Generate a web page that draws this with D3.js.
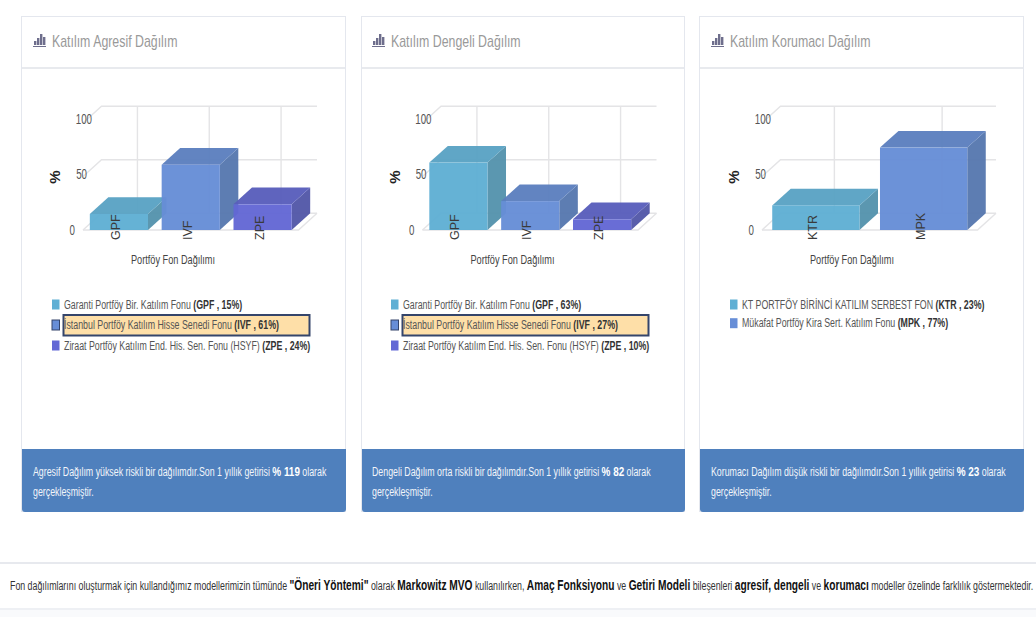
<!DOCTYPE html>
<html>
<head>
<meta charset="utf-8">
<script src="https://cdn.jsdelivr.net/npm/d3@7"></script>
<style>
html, body { margin: 0; padding: 0; background: #fff; overflow: hidden; }
svg { display: block; }
text { font-family: "Liberation Sans", Arial, sans-serif; }
</style>
</head>
<body>
<div id="chart-area"></div>
<script>
const panelTitles = ["Katılım Agresif Dağılım", "Katılım Dengeli Dağılım", "Katılım Korumacı Dağılım"];
const panelCategories = [["GPF", "IVF", "ZPE"], ["GPF", "IVF", "ZPE"], ["KTR", "MPK"]];
const panelValues = [[15, 61, 24], [63, 27, 10], [23, 77]];
const panelFundNames = [
    ["Garanti Portföy Bir. Katılım Fonu", "İstanbul Portföy Katılım Hisse Senedi Fonu", "Ziraat Portföy Katılım End. His. Sen. Fonu (HSYF)"],
    ["Garanti Portföy Bir. Katılım Fonu", "İstanbul Portföy Katılım Hisse Senedi Fonu", "Ziraat Portföy Katılım End. His. Sen. Fonu (HSYF)"],
    ["KT PORTFÖY BİRİNCİ KATILIM SERBEST FON", "Mükafat Portföy Kira Sert. Katılım Fonu"]
];
const highlighted = ["IVF", "IVF", null];
const footerNames = ["Agresif Dağılım yüksek", "Dengeli Dağılım orta", "Korumacı Dağılım düşük"];
const footerReturns = [119, 82, 23];
const yTicks = [0, 50, 100];
const xTitle = "Portföy Fon Dağılımı";
const bottomRuns = [
    ["Fon dağılımlarını oluşturmak için kullandığımız modellerimizin tümünde ", false],
    ["\"Öneri Yöntemi\"", true],
    [" olarak ", false],
    ["Markowitz MVO", true],
    [" kullanılırken, ", false],
    ["Amaç Fonksiyonu", true],
    [" ve ", false],
    ["Getiri Modeli", true],
    [" bileşenleri ", false],
    ["agresif, dengeli", true],
    [" ve ", false],
    ["korumacı", true],
    [" modeller özelinde farklılık göstermektedir.", false]
];

const faceColors = [
    {front: "#5fafd4", top: "#5aa3c4", side: "#5593ad"},
    {front: "#678ed7", top: "#5c80bf", side: "#5778af"},
    {front: "#6368d5", top: "#595ebc", side: "#5358a8"}
];

const panelLefts = [22, 362, 700];
const panelWidths = [324, 323, 324];
const contentLefts = [22, 361, 700];
const chartLefts = [22, 361.5, 701];
const squeeze = 0.735;
const depth = {x: 18.5, y: 16.7};
const floorY = 230;
const wallTop = 123;
const plotWidth = 215.5;

const svg = d3.select("#chart-area")
    .append("svg")
    .attr("width", 1036)
    .attr("height", 617);

// every text in the picture is narrower than the font, so squeeze it sideways
const addText = (parent, x, y, size, fill, runs, boldSize, boldFill) => {
    const t = parent.append("text")
        .attr("transform", `translate(${x}, ${y}) scale(${squeeze}, 1)`)
        .attr("font-size", size)
        .attr("fill", fill)
        .attr("xml:space", "preserve")
        .style("white-space", "pre");
    runs.forEach(([str, bold]) => {
        t.append("tspan")
            .attr("font-weight", bold ? "bold" : "normal")
            .attr("font-size", bold ? (boldSize || size) : size)
            .attr("fill", bold ? (boldFill || "#222") : fill)
            .text(str);
    });
    return t;
};

const drawChart = (g, left, categories, values) => {
    const x0 = left + 61;

    const x = d3.scaleBand()
        .domain(categories)
        .range([x0, x0 + plotWidth])
        .paddingInner(0.19)
        .paddingOuter(0.095);

    const y = d3.scaleLinear().domain([0, 100]).range([floorY, wallTop]);
    const labelY = d3.scaleLinear().domain([0, 100]).range([floorY - 0.5, 118.5]);
    // the tick labels follow the slanted side wall, lower ones sit further left
    const labelX = d3.scaleLinear().domain(yTicks).range([-17, -5, 0]);

    const grid = g.append("g")
        .attr("fill", "none")
        .attr("stroke", "#e4e4e6")
        .attr("stroke-width", 1.4);

    yTicks.forEach(tick => {
        const fy = y(tick);
        grid.append("path")
            .attr("d", `M${x0},${fy} L${x0 + depth.x},${fy - depth.y} H${x0 + plotWidth + depth.x}`);
    });
    grid.append("path")
        .attr("d", `M${x0},${floorY} H${x0 + plotWidth} L${x0 + plotWidth + depth.x},${floorY - depth.y}`);
    categories.forEach(c => {
        const gx = x(c) + x.bandwidth() / 2 + depth.x;
        grid.append("line")
            .attr("x1", gx).attr("x2", gx)
            .attr("y1", y(100) - depth.y).attr("y2", floorY - depth.y);
    });

    const bars = g.selectAll(".bar")
        .data(categories.map((c, i) => ({name: c, value: values[i], color: faceColors[i]})))
        .enter()
        .append("g")
        .attr("class", "bar")
        .attr("opacity", 0.96);

    const xl = d => x(d.name);
    const xr = d => x(d.name) + x.bandwidth();

    bars.append("path")
        .attr("fill", d => d.color.side)
        .attr("d", d => `M${xr(d)},${y(d.value)} l${depth.x},${-depth.y} V${floorY - depth.y} L${xr(d)},${floorY} Z`);
    bars.append("path")
        .attr("fill", d => d.color.top)
        .attr("d", d => `M${xl(d)},${y(d.value)} l${depth.x},${-depth.y} H${xr(d) + depth.x} L${xr(d)},${y(d.value)} Z`);
    bars.append("rect")
        .attr("fill", d => d.color.front)
        .attr("x", xl)
        .attr("y", d => y(d.value))
        .attr("width", x.bandwidth())
        .attr("height", d => floorY - y(d.value));

    g.selectAll(".x-label")
        .data(categories)
        .enter()
        .append("text")
        .attr("class", "x-label")
        .attr("transform", c => `translate(${x(c) + x.bandwidth() / 2 + 1}, 240) rotate(-90)`)
        .attr("font-size", 12.5)
        .attr("fill", "#3a3a3a")
        .text(c => c);

    const yAxis = g.append("g")
        .attr("transform", `translate(${left + 70}, 0)`)
        .call(d3.axisLeft(labelY).tickValues(yTicks).tickSize(0).tickPadding(0));
    yAxis.select(".domain").remove();
    yAxis.selectAll("text")
        .attr("font-family", "Liberation Sans")
        .attr("font-size", 15)
        .attr("fill", "#555")
        .attr("transform", d => `translate(${labelX(d)}, 0) scale(0.65, 1)`)
        .attr("x", 0)
        .attr("text-anchor", "end");

    g.append("text")
        .attr("transform", `translate(${left + 38}, 177) rotate(-90)`)
        .attr("text-anchor", "middle")
        .attr("font-size", 15)
        .attr("font-weight", "bold")
        .attr("fill", "#222")
        .text("%");

    g.append("text")
        .attr("transform", `translate(${left + 151}, 264) scale(${squeeze}, 1)`)
        .attr("text-anchor", "middle")
        .attr("font-size", 12.5)
        .attr("fill", "#444")
        .text(xTitle);
};

const drawLegend = (g, left, categories, values, names, marked) => {
    const rowHeight = categories.length === 2 ? 18.7 : 20.5;
    categories.forEach((c, i) => {
        const cy = 304.5 + i * rowHeight;
        g.append("rect")
            .attr("x", left + 30).attr("y", cy - 5)
            .attr("width", 7.5).attr("height", 10)
            .attr("fill", faceColors[i].front)
            .attr("stroke", c === marked ? "#34456b" : "none");
        if (c === marked) {
            g.append("rect")
                .attr("x", left + 41.5).attr("y", cy - 10)
                .attr("width", 246).attr("height", 20.5)
                .attr("fill", "#fedfa8")
                .attr("stroke", "#34456b")
                .attr("stroke-width", 2);
        }
        addText(g, left + 42, cy + 4, 12, "#555",
            [[names[i] + " ", false], [`(${c} , ${values[i]}%)`, true]], 12, "#333");
    });
};

panelTitles.forEach((title, p) => {
    const left = panelLefts[p];
    const width = panelWidths[p];
    const content = contentLefts[p];
    const g = svg.append("g").attr("class", "panel");

    g.append("rect")
        .attr("x", left - 0.5).attr("y", 16.5)
        .attr("width", width).attr("height", 495)
        .attr("fill", "#fff")
        .attr("stroke", "#e4e7ee");
    g.append("rect")
        .attr("x", left).attr("y", 67)
        .attr("width", width - 1).attr("height", 2)
        .attr("fill", "#e8eaee");

    // header icon
    const icon = g.append("g").attr("fill", "#6e6e8c");
    [[0, 4], [3, 7], [6, 11], [9, 8]].forEach(([dx, h]) => {
        icon.append("rect")
            .attr("x", content + 12 + dx).attr("y", 45 - h)
            .attr("width", 2.4).attr("height", h);
    });
    icon.append("rect").attr("x", content + 11).attr("y", 46).attr("width", 13).attr("height", 1);

    addText(g, content + 30, 47, 16.8, "#999", [[title, false]]);

    drawChart(g, chartLefts[p], panelCategories[p], panelValues[p]);
    drawLegend(g, content, panelCategories[p], panelValues[p], panelFundNames[p], highlighted[p]);

    g.append("path")
        .attr("fill", "#4f80bd")
        .attr("d", `M${left},449 h${width} v60 q0,3 -3,3 h${-width + 6} q-3,0 -3,-3 Z`);

    addText(g, content + 11, 476, 12, "#f2f5fa", [
        [`${footerNames[p]} riskli bir dağılımdır.Son 1 yıllık getirisi `, false],
        [`% ${footerReturns[p]}`, true],
        [" olarak", false]
    ], 13.5, "#fff");
    addText(g, content + 11, 496, 12, "#f2f5fa", [["gerçekleşmiştir.", false]]);
});

svg.append("rect").attr("x", 0).attr("y", 608).attr("width", 1036).attr("height", 9).attr("fill", "#f9fafc");
svg.append("rect").attr("x", 0).attr("y", 562).attr("width", 1036).attr("height", 2).attr("fill", "#e7e9ee");
svg.append("rect").attr("x", 0).attr("y", 608).attr("width", 1036).attr("height", 2).attr("fill", "#eef0f4");

addText(svg, 10, 590, 12, "#333", bottomRuns, 13.85, "#111");
</script>
</body>
</html>
